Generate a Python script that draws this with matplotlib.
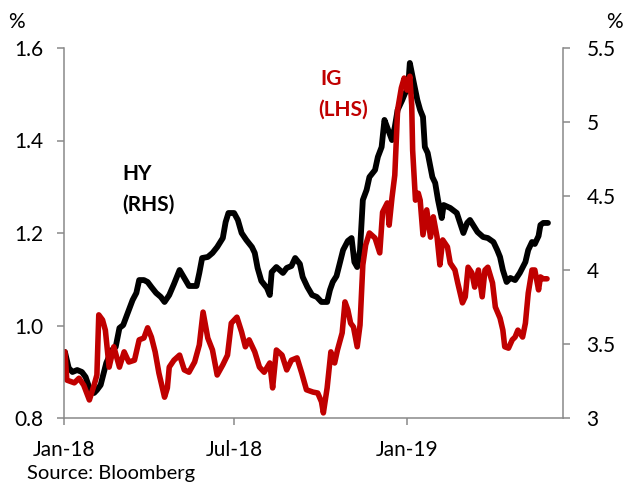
import matplotlib
matplotlib.use("Agg")
import matplotlib.pyplot as plt
import pandas as pd

# Investment-grade spread (left axis, %)
ig_dates = [
    '2018-01-02', '2018-01-04', '2018-01-12', '2018-01-17', '2018-01-22', '2018-01-28',
    '2018-02-02', '2018-02-05', '2018-02-07', '2018-02-11', '2018-02-14', '2018-02-18',
    '2018-02-23', '2018-03-01', '2018-03-06', '2018-03-11', '2018-03-17', '2018-03-22',
    '2018-03-27', '2018-03-31', '2018-04-04', '2018-04-08', '2018-04-12', '2018-04-18',
    '2018-04-21', '2018-04-23', '2018-04-28', '2018-05-04', '2018-05-09', '2018-05-14',
    '2018-05-20', '2018-05-25', '2018-05-29', '2018-06-03', '2018-06-08', '2018-06-13',
    '2018-06-19', '2018-06-24', '2018-06-28', '2018-07-04', '2018-07-09', '2018-07-13',
    '2018-07-17', '2018-07-23', '2018-07-28', '2018-08-02', '2018-08-08', '2018-08-11',
    '2018-08-15', '2018-08-21', '2018-08-26', '2018-08-31', '2018-09-06', '2018-09-11',
    '2018-09-16', '2018-09-23', '2018-09-28', '2018-10-02', '2018-10-04', '2018-10-08',
    '2018-10-12', '2018-10-16', '2018-10-19', '2018-10-24', '2018-10-27', '2018-10-30',
    '2018-11-02', '2018-11-05', '2018-11-09', '2018-11-12', '2018-11-15', '2018-11-18',
    '2018-11-22', '2018-11-28', '2018-12-03', '2018-12-06', '2018-12-11', '2018-12-13',
    '2018-12-16', '2018-12-19', '2018-12-22', '2018-12-26', '2018-12-29', '2019-01-01',
    '2019-01-04', '2019-01-06', '2019-01-07', '2019-01-10', '2019-01-13', '2019-01-15',
    '2019-01-18', '2019-01-22', '2019-01-26', '2019-01-29', '2019-02-02', '2019-02-05',
    '2019-02-08', '2019-02-13', '2019-02-16', '2019-02-21', '2019-02-24', '2019-03-01',
    '2019-03-04', '2019-03-07', '2019-03-11', '2019-03-14', '2019-03-18', '2019-03-22',
    '2019-03-25', '2019-03-28', '2019-04-02', '2019-04-05', '2019-04-10', '2019-04-13',
    '2019-04-15', '2019-04-19', '2019-04-23', '2019-04-26', '2019-04-29', '2019-05-04',
    '2019-05-07', '2019-05-10', '2019-05-14', '2019-05-17', '2019-05-21', '2019-05-23',
    '2019-05-26', '2019-05-30',
]
ig_values = [
    0.943, 0.882, 0.876, 0.886, 0.871, 0.839,
    0.871, 0.893, 1.023, 1.012, 0.990, 0.910,
    0.954, 0.910, 0.943, 0.921, 0.925, 0.969,
    0.973, 0.995, 0.975, 0.943, 0.897, 0.845,
    0.865, 0.910, 0.925, 0.936, 0.904, 0.899,
    0.921, 0.958, 1.029, 0.973, 0.947, 0.893,
    0.915, 0.936, 1.005, 1.018, 0.986, 0.954,
    0.969, 0.943, 0.910, 0.899, 0.919, 0.865,
    0.947, 0.936, 0.904, 0.925, 0.930, 0.897,
    0.861, 0.856, 0.854, 0.835, 0.811, 0.865,
    0.943, 0.919, 0.947, 0.984, 1.051, 1.034,
    1.005, 0.997, 0.954, 1.001, 1.131, 1.174,
    1.200, 1.189, 1.157, 1.245, 1.265, 1.217,
    1.276, 1.325, 1.466, 1.514, 1.535, 1.509,
    1.539, 1.477, 1.379, 1.271, 1.286, 1.271,
    1.196, 1.250, 1.191, 1.235, 1.191, 1.131,
    1.185, 1.170, 1.135, 1.120, 1.092, 1.049,
    1.062, 1.126, 1.114, 1.083, 1.120, 1.062,
    1.120, 1.126, 1.092, 1.040, 1.016, 0.990,
    0.954, 0.951, 0.969, 0.975, 0.990, 0.975,
    1.005, 1.070, 1.120, 1.120, 1.077, 1.105,
    1.101, 1.101,
]

# High-yield spread (right axis, %)
hy_dates = [
    '2018-01-02', '2018-01-06', '2018-01-10', '2018-01-15', '2018-01-20', '2018-01-24',
    '2018-01-28', '2018-02-02', '2018-02-05', '2018-02-09', '2018-02-15', '2018-02-21',
    '2018-02-25', '2018-03-01', '2018-03-05', '2018-03-09', '2018-03-15', '2018-03-19',
    '2018-03-22', '2018-03-27', '2018-03-31', '2018-04-04', '2018-04-09', '2018-04-14',
    '2018-04-18', '2018-04-23', '2018-04-28', '2018-05-04', '2018-05-09', '2018-05-14',
    '2018-05-22', '2018-05-25', '2018-05-28', '2018-06-03', '2018-06-08', '2018-06-13',
    '2018-06-19', '2018-06-22', '2018-06-25', '2018-07-01', '2018-07-05', '2018-07-09',
    '2018-07-14', '2018-07-20', '2018-07-23', '2018-07-26', '2018-07-30', '2018-08-05',
    '2018-08-08', '2018-08-10', '2018-08-15', '2018-08-22', '2018-08-26', '2018-08-31',
    '2018-09-04', '2018-09-09', '2018-09-12', '2018-09-17', '2018-09-22', '2018-09-27',
    '2018-10-02', '2018-10-08', '2018-10-11', '2018-10-14', '2018-10-18', '2018-10-21',
    '2018-10-25', '2018-10-30', '2018-11-03', '2018-11-06', '2018-11-09', '2018-11-12',
    '2018-11-15', '2018-11-19', '2018-11-22', '2018-11-28', '2018-12-01', '2018-12-05',
    '2018-12-08', '2018-12-12', '2018-12-16', '2018-12-19', '2018-12-22', '2018-12-27',
    '2018-12-30', '2019-01-02', '2019-01-04', '2019-01-07', '2019-01-12', '2019-01-15',
    '2019-01-18', '2019-01-20', '2019-01-23', '2019-01-28', '2019-01-31', '2019-02-03',
    '2019-02-07', '2019-02-09', '2019-02-16', '2019-02-23', '2019-03-02', '2019-03-06',
    '2019-03-09', '2019-03-17', '2019-03-23', '2019-03-28', '2019-04-03', '2019-04-07',
    '2019-04-10', '2019-04-13', '2019-04-17', '2019-04-21', '2019-04-26', '2019-05-01',
    '2019-05-07', '2019-05-10', '2019-05-14', '2019-05-17', '2019-05-21', '2019-05-23',
    '2019-05-26', '2019-05-31',
]
hy_values = [
    3.446, 3.338, 3.311, 3.324, 3.311, 3.277,
    3.203, 3.169, 3.189, 3.223, 3.372, 3.459,
    3.480, 3.608, 3.628, 3.696, 3.797, 3.845,
    3.932, 3.932, 3.919, 3.885, 3.845, 3.818,
    3.784, 3.831, 3.905, 4.000, 3.946, 3.892,
    3.892, 3.980, 4.081, 4.088, 4.115, 4.155,
    4.216, 4.324, 4.385, 4.385, 4.338, 4.250,
    4.203, 4.155, 4.115, 4.014, 3.926, 3.878,
    3.831, 3.986, 4.020, 3.980, 4.014, 4.027,
    4.081, 4.041, 3.953, 3.885, 3.831, 3.818,
    3.784, 3.784, 3.865, 3.919, 3.959, 4.034,
    4.135, 4.196, 4.216, 4.054, 4.020, 4.135,
    4.473, 4.541, 4.628, 4.676, 4.764, 4.831,
    5.014, 4.946, 4.878, 4.966, 5.081, 5.149,
    5.196, 5.216, 5.399, 5.304, 5.149, 5.081,
    5.034, 4.831, 4.791, 4.628, 4.588, 4.473,
    4.351, 4.439, 4.419, 4.385, 4.250, 4.318,
    4.338, 4.257, 4.223, 4.216, 4.189, 4.135,
    4.088, 4.000, 3.919, 3.946, 3.932, 3.980,
    4.054, 4.135, 4.189, 4.176, 4.230, 4.304,
    4.318, 4.318,
]

left_ticks = [0.8, 1.0, 1.2, 1.4, 1.6]
right_ticks = [3, 3.5, 4, 4.5, 5, 5.5]
x_ticks = ['2018-01-01', '2018-07-01', '2019-01-01']
x_tick_labels = ['Jan-18', 'Jul-18', 'Jan-19']

RED = '#C00000'
GREY = '#898989'

plt.rcParams['font.family'] = ['Lato', 'DejaVu Sans']

fig = plt.figure(figsize=(6.25, 4.83), dpi=100)
ax = fig.add_axes([64 / 625, 1 - 418 / 483, (563 - 64) / 625, (418 - 48) / 483])
ax2 = ax.twinx()
# keep the IG line above the HY line
ax.set_zorder(ax2.get_zorder() + 1)
ax.patch.set_visible(False)

ax2.plot(pd.to_datetime(hy_dates), hy_values, color='black', lw=4.2,
         solid_joinstyle='round', solid_capstyle='round')
ax.plot(pd.to_datetime(ig_dates), ig_values, color=RED, lw=4.0,
        solid_joinstyle='round', solid_capstyle='round')

ax.set_xlim(pd.Timestamp('2018-01-01'), pd.Timestamp('2019-06-16'))
ax.set_ylim(0.8, 1.6)
ax2.set_ylim(3, 5.5)

ax.set_xticks(pd.to_datetime(x_ticks))
ax.set_xticklabels(x_tick_labels)
ax.set_yticks(left_ticks)
ax.set_yticklabels([f'{v:.1f}' for v in left_ticks])
ax2.set_yticks(right_ticks)
ax2.set_yticklabels([f'{v:g}' for v in right_ticks])

for a in (ax, ax2):
    a.spines['top'].set_visible(False)
    for side in ('left', 'right', 'bottom'):
        a.spines[side].set_color(GREY)
        a.spines[side].set_linewidth(1.1)
ax.spines['right'].set_visible(False)
ax2.spines['left'].set_visible(False)
ax2.spines['bottom'].set_visible(False)

ax.tick_params(axis='x', direction='out', length=5, width=1.1, color=GREY,
               labelsize=15, pad=11)
ax.tick_params(axis='y', direction='out', length=5, width=1.1, color=GREY,
               labelsize=15, pad=10)
ax2.tick_params(axis='y', direction='out', length=5, width=1.1, color=GREY,
                labelsize=15, pad=12)

fig.text(8 / 625, 1 - 22 / 483, '%', fontsize=15, va='center', ha='left')
fig.text(606 / 625, 1 - 22 / 483, '%', fontsize=15, va='center', ha='left')

fig.text(122 / 625, 1 - 174 / 483, 'HY', fontsize=15, fontweight='bold',
         va='center', ha='left')
fig.text(122 / 625, 1 - 205 / 483, '(RHS)', fontsize=15, fontweight='bold',
         va='center', ha='left')
fig.text(320 / 625, 1 - 79 / 483, 'IG', fontsize=15, fontweight='bold',
         color=RED, va='center', ha='left')
fig.text(318 / 625, 1 - 110 / 483, '(LHS)', fontsize=15, fontweight='bold',
         color=RED, va='center', ha='left')

fig.text(27 / 625, 1 - 479 / 483, 'Source: Bloomberg', fontsize=14.5,
         va='baseline', ha='left')

fig.savefig('out.png', dpi=100)
